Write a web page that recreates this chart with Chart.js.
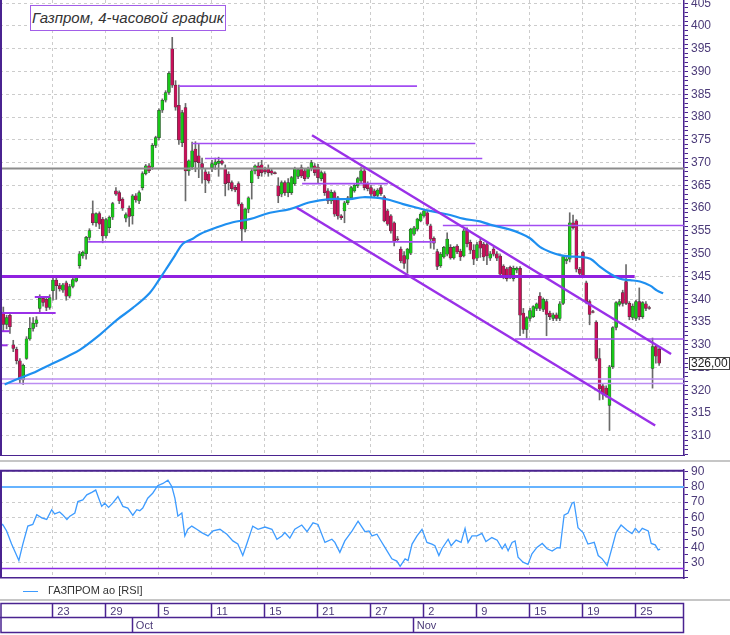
<!DOCTYPE html>
<html lang="ru">
<head>
<meta charset="utf-8">
<title>Газпром, 4-часовой график</title>
<script src="https://cdn.jsdelivr.net/npm/chart.js@4.4.1/dist/chart.umd.min.js"></script>
<style>
    html, body { margin: 0; padding: 0; background: #fff; }
    body { width: 730px; height: 635px; position: relative; overflow: hidden; font-family: "Liberation Sans", Arial, sans-serif; }
    .panel { position: absolute; left: 0; width: 730px; }
    #pricePanel { top: 0; height: 456px; }
    #rsiPanel { top: 462px; height: 118px; }
    #datePanel { top: 600px; height: 35px; }
    .sep { position: absolute; left: 0; width: 730px; height: 2px; background: #c6c6c6; }
    #chartTitle { position: absolute; left: 30px; top: 5px; width: 194px; height: 24px; border: 1.5px solid #a25ee8; background: #fff; color: #333; font-style: italic; font-size: 15px; line-height: 24px; text-align: center; }
    #rsiLegend { position: absolute; left: 23px; top: 583px; height: 15px; font-size: 11px; line-height: 15px; color: #333; white-space: nowrap; }
    #rsiLegend .swatch { display: inline-block; width: 15px; height: 0; border-top: 1.5px solid #3d9bff; vertical-align: middle; margin-right: 10px; }
</style>
</head>
<body>
<div class="panel" id="pricePanel"><canvas id="priceChart"></canvas></div>
<div class="panel" id="rsiPanel"><canvas id="rsiChart"></canvas></div>
<div class="panel" id="datePanel"><canvas id="dateChart"></canvas></div>
<div class="sep" style="top:460px"></div>
<div class="sep" style="top:599px"></div>
<div id="chartTitle">Газпром, 4-часовой график</div>
<div id="rsiLegend"><span class="swatch"></span>ГАЗПРОМ ао [RSI]</div>

<script>
// 4-hour candles, bar index 0..198
const open = [
    337, 334.5, 336.5, 330, 329, 326.5, 322.3, 327, 331.3, 333.6,
    334.7, 338, 340.2, 340, 338.2, 341.9, 344.2, 343, 342, 343.6,
    340.7, 342.8, 344, 347.4, 349.5, 350, 353.6, 358.8, 356.8, 358.8,
    357.6, 353.9, 355.7, 358, 363.8, 363.4, 362, 357.8, 360, 358.3,
    362.7, 361.6, 364.5, 367.6, 369.3, 369, 373.8, 375.5, 381.5, 383.7,
    385.4, 395, 387, 382.6, 374.4, 382.1, 368.2, 369, 373, 371.5,
    369.8, 368, 367.5, 368.9, 369.5, 369.8, 370.4, 368.7, 367.5, 365.6,
    364.6, 365.4, 360.9, 355.4, 359.8, 365.6, 368.2, 369.3, 369.5, 368.5,
    368.7, 368.2, 367.8, 364.9, 363.1, 365.6, 363.4, 363.4, 365.4, 367,
    368.9, 368.2, 366.8, 368.7, 369.3, 369, 366.5, 367.6, 363.8, 361.6,
    363.4, 362.3, 358.3, 359.4, 361.2, 362.3, 363.8, 364.9, 366, 368.2,
    365.4, 364.5, 363.8, 362.8, 364.5, 362.5, 359.4, 358.3, 356.8, 353.3,
    351, 349.6, 348.8, 350.1, 354.3, 355.4, 357.2, 358.3, 359, 356.1,
    353.4, 350.5, 347.4, 349.3, 349.9, 351.4, 349.1, 351.7, 350.6, 349.5,
    355.2, 352.5, 350.8, 349, 352.8, 352.1, 352, 349, 351, 350,
    349.5, 347.3, 346.7, 347, 344.5, 346.4, 346.8, 337, 333.4, 335.8,
    336.2, 338, 340.7, 337.8, 339.5, 337, 335.8, 336.6, 335.8, 339.1,
    348.4, 348.8, 356.8, 357.2, 346.6, 350.3, 343.6, 339.5, 337.3, 335,
    327, 321, 320.5, 316.7, 325.2, 333.8, 338.9, 341.5, 343.9, 339.1,
    336, 335.8, 339.5, 336.2, 339, 338.2, 324.8, 329.6, 329
];
const high = [
    338.3, 336.5, 337, 331, 329.5, 327, 325.8, 331.8, 336, 336,
    336.2, 341, 340.6, 340.5, 341, 344.8, 344.6, 343.5, 343.5, 344,
    343.3, 344.6, 345.2, 350.5, 350.6, 353.8, 355.5, 361.6, 359, 359.2,
    358, 357.8, 358.3, 361.3, 364.5, 363.8, 362.3, 359, 360.5, 363,
    363.2, 363.8, 368, 369.6, 369.8, 374.2, 375.8, 381.8, 384, 385.8,
    390, 397.5, 388, 387, 381.5, 383, 370.6, 374.5, 374.6, 374,
    371, 368.5, 368, 370.5, 371, 371.2, 370.6, 369.5, 368, 366,
    365, 365.8, 361.2, 360, 362.5, 368.5, 369.5, 370, 370.5, 369,
    369.5, 368.5, 368, 366.7, 366, 366, 366.5, 367, 369, 368.7,
    369.5, 368.6, 369, 370.5, 369.8, 369.6, 368.2, 368, 364.3, 364,
    363.8, 362.6, 358.6, 361.5, 362.6, 364.8, 365.3, 366.8, 369, 368.6,
    365.8, 365, 364.2, 364.3, 365, 362.8, 359.8, 358.6, 357, 353.8,
    351.5, 350.5, 351.2, 355.6, 356, 357.8, 359, 359.8, 359.3, 356.5,
    353.7, 351, 350.3, 351.6, 354.6, 352, 351.6, 352, 351, 355.4,
    355.7, 353, 352, 352.5, 353.2, 352.5, 352.4, 350.5, 351.4, 350.5,
    349.8, 347.6, 347, 347.3, 347.3, 347.1, 347.2, 338, 336.2, 338,
    338.6, 339.2, 341.5, 340.3, 340, 337.4, 337, 337, 339.5, 349.6,
    349.2, 359, 358.5, 357.5, 347, 350.6, 344, 339.8, 337.6, 335.3,
    329.2, 321.5, 321, 325.5, 334, 339.5, 340, 342, 347.6, 339.5,
    339, 339.8, 342.5, 339.5, 339.5, 338.5, 331.5, 330, 329.3
];
const low = [
    333, 333.5, 332.5, 328.5, 325.8, 321.5, 321.3, 326.8, 331, 333,
    334, 337, 338.5, 337.5, 337.8, 339.8, 340, 341.8, 341.5, 339.8,
    340.3, 342.5, 343.8, 346.8, 349, 348.8, 353, 356.3, 356, 355.5,
    352.4, 353.4, 354.6, 357.5, 362.8, 361, 359.5, 357, 356, 356.5,
    361.3, 361, 364, 367.3, 367.8, 368.5, 373.3, 375, 381, 383.3,
    385, 386.5, 381.5, 374, 373.5, 361.6, 367.2, 368.5, 368, 366.7,
    365.5, 363.4, 365.5, 368, 368.5, 367, 369.5, 362.7, 364, 363.8,
    363.6, 360.5, 352.8, 354.8, 359, 362, 367.5, 366.5, 367, 367.5,
    367, 367.3, 367.5, 361.2, 362.5, 362.8, 362.5, 363, 365, 366.5,
    366.7, 366, 366.5, 368.2, 367.2, 365.5, 366, 362.8, 361, 361,
    358.2, 357.6, 357.5, 356.8, 360.8, 362, 363.5, 364.5, 365.5, 364,
    363.8, 362.5, 362.3, 362.5, 362.8, 357, 356.2, 354.5, 351.7, 352.8,
    348, 346.8, 345.7, 349.8, 354, 355, 357, 358, 356.2, 351.2,
    351, 346.5, 347, 349, 349.5, 348.8, 348.8, 350, 348.5, 349.3,
    351.5, 350, 347.6, 348.5, 349.2, 348.5, 347.6, 348.5, 349.5, 348.5,
    344.8, 344.5, 344, 344.5, 344, 345.8, 332, 332.5, 331.5, 335.2,
    336, 337.5, 337.5, 337.3, 332, 335.5, 335.3, 335.3, 335.3, 338.8,
    347.8, 348.2, 355.4, 346, 345.3, 344.8, 339, 334.4, 337, 326.5,
    317.9, 318, 318.5, 311.2, 324.8, 333.3, 338.5, 338.5, 338.8, 335.5,
    335.5, 335.3, 335.5, 335.8, 337.5, 337.8, 320.5, 326, 325.5
];
const close = [
    334.5, 336, 334, 329.2, 326.5, 322.3, 325.5, 331.3, 333.6, 334.7,
    335.5, 340.2, 339.3, 338.2, 340.4, 344.2, 343, 342.3, 343.2, 340.7,
    342.8, 344.3, 345, 350, 350.3, 353.6, 355.1, 356.8, 358.8, 356.5,
    353.9, 357.5, 358, 361, 363.1, 361.6, 360, 358.6, 358.2, 362.7,
    361.8, 363.4, 367.6, 369.3, 368.2, 373.8, 375.5, 381.5, 383.7, 385.4,
    389.6, 387, 382.2, 375, 381, 368.2, 370.4, 372.6, 370.2, 370,
    368.9, 366.2, 366, 369.8, 370.2, 370.3, 369.8, 365.4, 365.6, 364.3,
    364, 360.9, 355.4, 359.8, 362.3, 368.2, 369.3, 367.1, 367.8, 368,
    367.8, 367.7, 367.6, 362.7, 365.6, 363.4, 365.6, 366.7, 368.7, 368.5,
    367.1, 366.5, 368.7, 370, 367.8, 366.7, 367.8, 363.4, 361.6, 363.5,
    358.7, 358.3, 357.9, 361.2, 362.3, 364.5, 365, 366.5, 368.2, 364.5,
    364.3, 363.1, 362.7, 364, 363.2, 357.2, 356.5, 355, 352.8, 353.1,
    348.4, 347.9, 351, 355.4, 355.7, 357.6, 358.7, 359.4, 356.5, 353.2,
    352.3, 347.2, 349.9, 351.4, 353.2, 349.1, 351.4, 350.4, 349.3, 355,
    352.2, 350.8, 348.8, 352, 351.2, 349.3, 349.5, 350, 349.9, 349,
    345.5, 345.1, 344.5, 345, 346.8, 346.8, 336.5, 333.4, 336, 337.5,
    338.4, 339, 338, 340, 336.7, 336.2, 336.6, 335.8, 339, 349.4,
    348.8, 356.8, 355.7, 346.6, 345.7, 345, 339.5, 336.7, 337.1, 327,
    320.3, 319.2, 319, 325.2, 333.8, 339.3, 339.5, 339.1, 339.1, 336.2,
    338.5, 339.5, 336.2, 339.3, 338, 338, 329.6, 327.5, 326
];

// moving average, read at bar positions
const maBar = [0.4, 5.0, 8.9, 14.0, 19.2, 23.1, 29.1, 34.3, 39.1, 44.2, 47.3, 49.4, 51.8, 54.2, 57.2, 59.3, 64.5, 69.3, 74.4, 80.5,
    86.5, 92.6, 98.6, 104.6, 108.6, 113.7, 116.7, 120.7, 124.9, 128.8, 134.9, 138.8, 143.9, 146.9, 153.0, 156.0, 159.0, 162.0, 165.1, 168.1,
    171.1, 174.1, 177.2, 180.2, 183.2, 186.2, 189.2, 192.2, 195.3, 197.4, 199.2];
const maValue = [321.3, 322.7, 323.8, 325.6, 327.4, 328.9, 332.2, 335.5, 338.1, 341.4, 344.6, 346.9, 349.6, 352.2, 353.3, 354.3, 355.8, 356.9, 357.6, 359,
    359.8, 361.3, 362, 362, 362.4, 362.2, 361.8, 360.9, 360.1, 359.4, 358.5, 357.7, 357.1, 356.4, 355.3, 354.5, 353.4, 351.5, 350.4, 349.7,
    349.4, 349.3, 348.9, 347.1, 345.6, 344.5, 344.2, 343.9, 343, 341.9, 341.3];

// RSI, read at bar positions
const rsiBar = [-1.0, -0.2, 1.0, 2.5, 3.4, 4.7, 5.9, 7.4, 8.9, 10.1, 11.6, 13.1, 14.6, 15.5, 17.0, 17.9, 19.2, 20.1, 21.6, 22.5,
    24.0, 25.2, 26.7, 27.9, 28.8, 29.7, 30.6, 31.8, 33.0, 34.6, 36.1, 37.6, 39.1, 40.3, 41.2, 42.1, 43.6, 45.1, 46.6, 48.2,
    49.7, 50.9, 51.8, 52.7, 53.9, 54.8, 55.7, 56.9, 58.4, 59.9, 61.8, 63.3, 65.4, 67.5, 69.3, 70.8, 72.3, 73.5, 75.3, 76.9,
    79.0, 81.1, 82.6, 84.1, 85.0, 86.5, 88.0, 90.1, 91.7, 93.5, 95.0, 97.1, 99.2, 100.1, 101.6, 103.1, 105.3, 107.1, 109.2, 110.4,
    111.3, 112.8, 113.7, 115.2, 117.3, 118.8, 119.8, 121.3, 122.2, 123.4, 124.9, 126.4, 127.9, 129.4, 130.3, 131.5, 132.4, 134.3, 135.2, 136.7,
    138.2, 139.4, 140.3, 141.5, 143.0, 144.5, 145.7, 147.5, 149.1, 150.6, 151.5, 152.4, 153.6, 154.5, 155.4, 156.9, 158.4, 159.6, 161.1, 162.7,
    164.2, 165.7, 167.2, 168.1, 169.3, 170.5, 171.7, 172.3, 173.5, 175.0, 176.5, 178.4, 179.6, 180.8, 182.3, 183.8, 185.0, 186.5, 188.3, 189.8,
    190.8, 191.9, 192.9, 194.7, 195.6, 196.8, 197.7, 198.3];
const rsiValue = [54.1, 55.2, 50.9, 42.2, 37.8, 31.3, 42.2, 54.1, 55.2, 61.7, 59.6, 58.5, 65, 62.2, 63.5, 61.7, 58.5, 60.7, 62.8, 70.4,
    71.5, 74.8, 76.5, 78, 72.6, 67.2, 69.3, 66.5, 69.3, 73.7, 67.2, 66.1, 61.3, 65, 64.3, 66.1, 72.6, 75.9, 80.9, 82.4,
    84.6, 80.2, 72.6, 60.7, 62.8, 47.6, 52, 54.1, 52, 49.8, 47.6, 50.9, 52, 48.7, 44.3, 42.2, 34.6, 42.2, 54.1, 52,
    53.5, 52, 45.4, 47.6, 49.8, 46.1, 52, 54.8, 50.4, 56.3, 55.2, 43.3, 45.4, 43.3, 36.7, 44.3, 50.9, 57.4, 50.4, 50.9,
    47.6, 48.7, 45.4, 40, 32.4, 30.9, 27.4, 32.4, 31.3, 42.2, 47.6, 52, 43.3, 42.2, 41.1, 34.6, 39.1, 45.4, 41.1, 44.8,
    43.3, 52.6, 43.3, 47.6, 47.6, 49.3, 43.9, 46.5, 44.8, 39.1, 42.2, 37.8, 43.3, 44.3, 33.5, 30.2, 28.7, 35.7, 40, 42.6,
    39.1, 37.6, 39.8, 39.6, 61.3, 62.8, 69.3, 70, 53, 49.8, 42.2, 43.3, 34.6, 32.4, 28, 40, 49.8, 54.8, 51.3, 49.1,
    52.6, 49.8, 52.6, 50.9, 42.6, 41.7, 38.3, 38.9];
const rsiUpper = 80;
const rsiLower = 26;

// horizontal levels drawn on the price chart (price, first bar, last bar)
const greyLevel = 368.7;
const thinLevels = [386.8, 374.2, 370.9, 365.4, 352.6, 356.2, 331.3];
const thinFrom = [53.0, 57.0, 60.9, 90.2, 25.6, 132.7, 154.5];
const thinTo = [124.9, 142.5, 144.6, 116.1, 130.4, 205.5, 205.5];
const keyLevel = 345.0;
const keyTo = 190.6;
const paleLevels = [322.5, 321.5];
const shortLevels = [337.0, 340.5, 333.0, 329.9];
const shortFrom = [-1, 9.5, -1, -1];
const shortTo = [15.8, 14.0, 1.9, 1.3];

// descending channel
const channelUpperBars = [93.2, 201.6];
const channelUpperPrice = [376.0, 328.0];
const channelLowerBars = [88.6, 196.8];
const channelLowerPrice = [360.1, 312.3];

// date axis
const dayTickBars = [14.8, 30.8, 46.8, 62.8, 78.8, 94.8, 110.8, 126.8, 142.8, 158.8, 174.8, 190.8];
const dayTickLabels = ['23', '29', '5', '11', '15', '21', '27', '2', '9', '15', '19', '25'];
const monthStartBars = [38.8, 123.6];
const monthLabels = ['Oct', 'Nov'];

const xMin = -1;
const xMax = 205.5;
const priceMin = 305.6;
const priceMax = 405.7;
const rsiMin = 19.7;
const rsiMax = 91.3;

document.addEventListener('DOMContentLoaded', () => {
    Chart.defaults.font.family = '"Liberation Sans", Arial, sans-serif';
    Chart.defaults.animation = false;

    const frameColor = '#4a2390';
    const labelColor = '#4b3a78';
    const gridColor = '#cccccc';
    const upColor = '#18c818';
    const downColor = '#c8105a';
    const wickColor = '#6a6a6a';

    const isStep = (v, step) => Math.abs(v - Math.round(v / step) * step) < 1e-6;

    function segment(x0, x1, y0, y1, color, width, order) {
        return {
            type: 'line',
            data: [{ x: x0, y: y0 }, { x: x1, y: y1 }],
            borderColor: color,
            borderWidth: width,
            pointRadius: 0,
            order: order
        };
    }

    // left / top frame of a plot panel
    const panelFrame = {
        id: 'panelFrame',
        afterDraw(chart, args, opts) {
            const { ctx, chartArea: a } = chart;
            ctx.save();
            ctx.strokeStyle = frameColor;
            ctx.lineWidth = 2;
            ctx.beginPath();
            ctx.moveTo(a.left + 1, a.top);
            ctx.lineTo(a.left + 1, a.bottom);
            if (opts.top) {
                ctx.moveTo(a.left, a.top + 0.75);
                ctx.lineTo(a.right, a.top + 0.75);
            }
            ctx.stroke();
            ctx.restore();
        }
    };

    // boxed last price on the price axis
    const lastPriceTag = {
        id: 'lastPriceTag',
        afterDraw(chart) {
            const { ctx, chartArea: a, scales } = chart;
            const last = close[close.length - 1];
            const y = Math.round(scales.y.getPixelForValue(last));
            const x = Math.round(a.right) + 5;
            ctx.save();
            ctx.fillStyle = '#fff';
            ctx.fillRect(x, y - 6, 40, 12);
            ctx.strokeStyle = '#444';
            ctx.lineWidth = 1;
            ctx.strokeRect(x + 0.5, y - 5.5, 40, 12);
            ctx.fillStyle = '#222';
            ctx.font = '12px "Liberation Sans", Arial, sans-serif';
            ctx.textBaseline = 'middle';
            ctx.fillText(last.toFixed(2).replace('.', ','), x + 2, y + 1);
            ctx.restore();
        }
    };

    // two-row date table under the RSI panel
    const dateCells = {
        id: 'dateCells',
        afterDraw(chart) {
            const { ctx, chartArea: a, scales } = chart;
            const xs = scales.x;
            const top = 3.5, mid = 17.5, bottom = 32.5;
            ctx.save();
            ctx.strokeStyle = frameColor;
            ctx.lineWidth = 1.5;
            ctx.strokeRect(a.left + 1, top, a.right - a.left - 1.5, bottom - top);
            ctx.beginPath();
            ctx.moveTo(a.left, mid);
            ctx.lineTo(a.right, mid);
            dayTickBars.forEach(v => {
                const px = Math.round(xs.getPixelForValue(v)) + 0.5;
                ctx.moveTo(px, top);
                ctx.lineTo(px, mid);
            });
            monthStartBars.forEach(v => {
                const px = Math.round(xs.getPixelForValue(v)) + 0.5;
                ctx.moveTo(px, mid);
                ctx.lineTo(px, bottom);
            });
            ctx.stroke();
            ctx.fillStyle = labelColor;
            ctx.font = '11px "Liberation Sans", Arial, sans-serif';
            ctx.textBaseline = 'middle';
            dayTickBars.forEach((v, i) => {
                ctx.fillText(dayTickLabels[i], xs.getPixelForValue(v) + 5, (top + mid) / 2 + 1);
            });
            monthStartBars.forEach((v, i) => {
                ctx.fillText(monthLabels[i], xs.getPixelForValue(v) + 4, (mid + bottom) / 2 + 1);
            });
            ctx.restore();
        }
    };

    const dayTicksX = {
        type: 'linear',
        min: xMin,
        max: xMax,
        offset: false,
        afterBuildTicks: scale => { scale.ticks = dayTickBars.map(v => ({ value: v })); },
        ticks: { display: false },
        grid: { color: gridColor, drawTicks: false, offset: false },
        border: { display: true, color: frameColor, width: 1.5, dash: [3, 3] }
    };

    // ---------- price panel ----------
    const bodyColors = close.map((c, i) => c >= open[i] ? upColor : downColor);

    const priceDatasets = [
        {
            type: 'bar',
            data: high.map((h, i) => ({ x: i, y: [low[i], h] })),
            backgroundColor: wickColor,
            barThickness: 1,
            grouped: false,
            order: 9
        },
        {
            type: 'bar',
            data: open.map((o, i) => ({ x: i, y: [o, close[i]] })),
            backgroundColor: bodyColors,
            borderColor: '#383838',
            borderWidth: 0.5,
            borderSkipped: false,
            barThickness: 3,
            grouped: false,
            order: 8
        },
        segment(xMin, xMax, greyLevel, greyLevel, '#8c8c8c', 2, 4),
        segment(xMin, keyTo, keyLevel, keyLevel, '#9020e0', 3, 4),
        {
            type: 'line',
            data: maBar.map((b, i) => ({ x: b, y: maValue[i] })),
            borderColor: '#1e8ff0',
            borderWidth: 2.2,
            pointRadius: 0,
            tension: 0.35,
            order: 3
        },
        segment(channelUpperBars[0], channelUpperBars[1], channelUpperPrice[0], channelUpperPrice[1], '#9a30e8', 2.5, 2),
        segment(channelLowerBars[0], channelLowerBars[1], channelLowerPrice[0], channelLowerPrice[1], '#9a30e8', 2.5, 2)
    ];
    thinLevels.forEach((p, i) => priceDatasets.push(segment(thinFrom[i], thinTo[i], p, p, '#a24cf2', 1.6, 4)));
    paleLevels.forEach(p => priceDatasets.push(segment(xMin, xMax, p, p, '#bb8cf2', 1.6, 4)));
    shortLevels.forEach((p, i) => priceDatasets.push(segment(shortFrom[i], shortTo[i], p, p, '#9a30e8', 2, 4)));

    new Chart(document.getElementById('priceChart'), {
        type: 'bar',
        data: { datasets: priceDatasets },
        options: {
            responsive: true,
            maintainAspectRatio: false,
            animation: false,
            events: [],
            layout: { padding: 0 },
            plugins: { legend: { display: false }, tooltip: { enabled: false }, panelFrame: { top: false } },
            scales: {
                x: dayTicksX,
                y: {
                    position: 'right',
                    min: priceMin,
                    max: priceMax,
                    afterFit: scale => { scale.width = 46; scale.paddingTop = 0; scale.paddingBottom = 0; },
                    ticks: {
                        stepSize: 1,
                        includeBounds: false,
                        autoSkip: false,
                        color: labelColor,
                        font: { size: 12 },
                        padding: 3,
                        callback: v => isStep(v, 5) ? String(Math.round(v)) : ''
                    },
                    grid: {
                        color: c => (c.tick && isStep(c.tick.value, 5)) ? gridColor : 'rgba(0,0,0,0)',
                        tickColor: frameColor,
                        tickLength: 4
                    },
                    border: { display: true, color: frameColor, width: 1.5, dash: [3, 3] }
                }
            }
        },
        plugins: [panelFrame, lastPriceTag]
    });

    // ---------- RSI panel ----------
    new Chart(document.getElementById('rsiChart'), {
        type: 'line',
        data: {
            datasets: [
                {
                    label: 'ГАЗПРОМ ао [RSI]',
                    data: rsiBar.map((b, i) => ({ x: b, y: rsiValue[i] })),
                    borderColor: '#3d9bff',
                    borderWidth: 1.3,
                    pointRadius: 0,
                    order: 1
                },
                segment(xMin, xMax, rsiUpper, rsiUpper, '#66b3ff', 2, 2),
                segment(xMin, xMax, rsiLower, rsiLower, '#8a2be2', 1.6, 2)
            ]
        },
        options: {
            responsive: true,
            maintainAspectRatio: false,
            animation: false,
            events: [],
            layout: { padding: { top: 8, bottom: 2 } },
            plugins: { legend: { display: false }, tooltip: { enabled: false }, panelFrame: { top: true } },
            scales: {
                x: dayTicksX,
                y: {
                    position: 'right',
                    min: rsiMin,
                    max: rsiMax,
                    afterFit: scale => { scale.width = 46; scale.paddingTop = 0; scale.paddingBottom = 0; },
                    ticks: {
                        stepSize: 5,
                        includeBounds: false,
                        autoSkip: false,
                        color: labelColor,
                        font: { size: 12 },
                        padding: 3,
                        callback: v => (isStep(v, 10) && v >= 30) ? String(Math.round(v)) : ''
                    },
                    grid: {
                        color: c => (c.tick && isStep(c.tick.value, 10) && c.tick.value >= 30) ? gridColor : 'rgba(0,0,0,0)',
                        tickColor: frameColor,
                        tickLength: 4
                    },
                    border: { display: true, color: frameColor, width: 1.5, dash: [3, 3] }
                }
            }
        },
        plugins: [panelFrame]
    });

    // ---------- date table ----------
    new Chart(document.getElementById('dateChart'), {
        type: 'line',
        data: { datasets: [] },
        options: {
            responsive: true,
            maintainAspectRatio: false,
            animation: false,
            events: [],
            layout: { padding: { right: 46 } },
            plugins: { legend: { display: false }, tooltip: { enabled: false } },
            scales: {
                x: { type: 'linear', min: xMin, max: xMax, display: false },
                y: { display: false, min: 0, max: 1 }
            }
        },
        plugins: [dateCells]
    });
});
</script>
</body>
</html>
